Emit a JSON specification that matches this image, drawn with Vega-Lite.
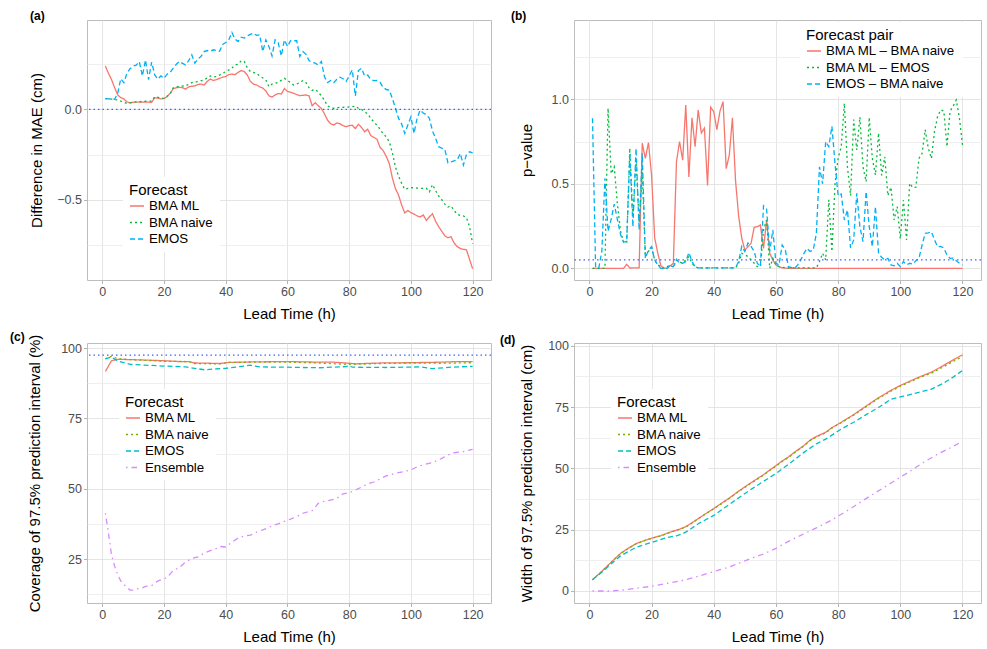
{
"$schema": "https://vega.github.io/schema/vega-lite/v6.json",
"background": "white",
"padding": {"left": 9, "top": 9, "right": 0, "bottom": 0},
"columns": 2,
"bounds": "flush",
"spacing": {"row": 63, "column": 83},
"resolve": {"scale": {"color": "independent", "strokeDash": "independent"}, "legend": {"color": "independent", "strokeDash": "independent"}},
"config": {
  "font": "Liberation Sans",
  "view": {"stroke": "#BDBDBD", "strokeWidth": 1},
  "axis": {"domain": false, "labelFontSize": 12.5, "labelColor": "#4D4D4D", "tickColor": "#B3B3B3", "tickSize": 3.5, "labelPadding": 2, "titleFontSize": 15, "titleFontWeight": "normal", "titleColor": "#000000", "gridColor": "#DEDEDE", "gridWidth": 0.8, "titleLimit": 600, "labelFlush": false, "labelOverlap": false},
  "legend": {"orient": "none", "fillColor": "white", "padding": 6, "titleFontSize": 15, "titleFontWeight": "normal", "titleColor": "black", "labelFontSize": 13.3, "labelColor": "black", "symbolType": "stroke", "symbolSize": 196, "symbolStrokeWidth": 1.5, "rowPadding": 1.5, "titlePadding": 0, "labelOffset": 4},
  "title": {"anchor": "start", "frame": "group", "fontSize": 12, "fontWeight": "bold", "color": "black", "offset": -3},
  "line": {"strokeWidth": 1.3}
},
"datasets": {
"a": [
{"h":1,"m":"BMA ML","v":0.24},{"h":2,"m":"BMA ML","v":0.2},{"h":3,"m":"BMA ML","v":0.165},{"h":4,"m":"BMA ML","v":0.12},{"h":5,"m":"BMA ML","v":0.08},{"h":6,"m":"BMA ML","v":0.065},{"h":7,"m":"BMA ML","v":0.058},{"h":8,"m":"BMA ML","v":0.042},{"h":9,"m":"BMA ML","v":0.035},{"h":10,"m":"BMA ML","v":0.04},{"h":12,"m":"BMA ML","v":0.04},{"h":14,"m":"BMA ML","v":0.041},{"h":16,"m":"BMA ML","v":0.039},{"h":17,"m":"BMA ML","v":0.065},{"h":18,"m":"BMA ML","v":0.062},{"h":19,"m":"BMA ML","v":0.058},{"h":20,"m":"BMA ML","v":0.06},{"h":21,"m":"BMA ML","v":0.07},{"h":22,"m":"BMA ML","v":0.09},{"h":23,"m":"BMA ML","v":0.115},{"h":24,"m":"BMA ML","v":0.12},{"h":25,"m":"BMA ML","v":0.122},{"h":26,"m":"BMA ML","v":0.12},{"h":27,"m":"BMA ML","v":0.112},{"h":28,"m":"BMA ML","v":0.125},{"h":29,"m":"BMA ML","v":0.128},{"h":30,"m":"BMA ML","v":0.13},{"h":31,"m":"BMA ML","v":0.138},{"h":32,"m":"BMA ML","v":0.14},{"h":33,"m":"BMA ML","v":0.135},{"h":34,"m":"BMA ML","v":0.155},{"h":35,"m":"BMA ML","v":0.168},{"h":36,"m":"BMA ML","v":0.16},{"h":37,"m":"BMA ML","v":0.165},{"h":38,"m":"BMA ML","v":0.172},{"h":39,"m":"BMA ML","v":0.178},{"h":40,"m":"BMA ML","v":0.182},{"h":41,"m":"BMA ML","v":0.193},{"h":42,"m":"BMA ML","v":0.195},{"h":43,"m":"BMA ML","v":0.192},{"h":44,"m":"BMA ML","v":0.205},{"h":45,"m":"BMA ML","v":0.215},{"h":46,"m":"BMA ML","v":0.21},{"h":47,"m":"BMA ML","v":0.19},{"h":48,"m":"BMA ML","v":0.155},{"h":49,"m":"BMA ML","v":0.14},{"h":50,"m":"BMA ML","v":0.135},{"h":51,"m":"BMA ML","v":0.125},{"h":52,"m":"BMA ML","v":0.118},{"h":53,"m":"BMA ML","v":0.102},{"h":54,"m":"BMA ML","v":0.075},{"h":55,"m":"BMA ML","v":0.068},{"h":56,"m":"BMA ML","v":0.08},{"h":57,"m":"BMA ML","v":0.088},{"h":58,"m":"BMA ML","v":0.085},{"h":59,"m":"BMA ML","v":0.115},{"h":60,"m":"BMA ML","v":0.1},{"h":61,"m":"BMA ML","v":0.095},{"h":62,"m":"BMA ML","v":0.089},{"h":63,"m":"BMA ML","v":0.082},{"h":64,"m":"BMA ML","v":0.076},{"h":65,"m":"BMA ML","v":0.078},{"h":66,"m":"BMA ML","v":0.08},{"h":67,"m":"BMA ML","v":0.075},{"h":68,"m":"BMA ML","v":0.02},{"h":69,"m":"BMA ML","v":0.037},{"h":70,"m":"BMA ML","v":0.02},{"h":71,"m":"BMA ML","v":0.005},{"h":72,"m":"BMA ML","v":-0.025},{"h":73,"m":"BMA ML","v":-0.06},{"h":74,"m":"BMA ML","v":-0.08},{"h":75,"m":"BMA ML","v":-0.087},{"h":76,"m":"BMA ML","v":-0.075},{"h":77,"m":"BMA ML","v":-0.08},{"h":78,"m":"BMA ML","v":-0.09},{"h":79,"m":"BMA ML","v":-0.096},{"h":80,"m":"BMA ML","v":-0.09},{"h":81,"m":"BMA ML","v":-0.088},{"h":82,"m":"BMA ML","v":-0.106},{"h":83,"m":"BMA ML","v":-0.082},{"h":84,"m":"BMA ML","v":-0.1},{"h":85,"m":"BMA ML","v":-0.124},{"h":86,"m":"BMA ML","v":-0.11},{"h":87,"m":"BMA ML","v":-0.145},{"h":88,"m":"BMA ML","v":-0.155},{"h":89,"m":"BMA ML","v":-0.165},{"h":90,"m":"BMA ML","v":-0.21},{"h":91,"m":"BMA ML","v":-0.228},{"h":92,"m":"BMA ML","v":-0.26},{"h":93,"m":"BMA ML","v":-0.3},{"h":94,"m":"BMA ML","v":-0.38},{"h":95,"m":"BMA ML","v":-0.44},{"h":96,"m":"BMA ML","v":-0.475},{"h":97,"m":"BMA ML","v":-0.53},{"h":98,"m":"BMA ML","v":-0.574},{"h":99,"m":"BMA ML","v":-0.56},{"h":100,"m":"BMA ML","v":-0.572},{"h":101,"m":"BMA ML","v":-0.58},{"h":102,"m":"BMA ML","v":-0.59},{"h":103,"m":"BMA ML","v":-0.596},{"h":104,"m":"BMA ML","v":-0.585},{"h":105,"m":"BMA ML","v":-0.615},{"h":106,"m":"BMA ML","v":-0.595},{"h":107,"m":"BMA ML","v":-0.578},{"h":108,"m":"BMA ML","v":-0.62},{"h":109,"m":"BMA ML","v":-0.65},{"h":110,"m":"BMA ML","v":-0.675},{"h":111,"m":"BMA ML","v":-0.7},{"h":112,"m":"BMA ML","v":-0.711},{"h":113,"m":"BMA ML","v":-0.705},{"h":114,"m":"BMA ML","v":-0.74},{"h":115,"m":"BMA ML","v":-0.76},{"h":116,"m":"BMA ML","v":-0.77},{"h":117,"m":"BMA ML","v":-0.775},{"h":118,"m":"BMA ML","v":-0.778},{"h":119,"m":"BMA ML","v":-0.83},{"h":120,"m":"BMA ML","v":-0.883},
{"h":1,"m":"BMA naive","v":0.06},{"h":3,"m":"BMA naive","v":0.057},{"h":5,"m":"BMA naive","v":0.052},{"h":7,"m":"BMA naive","v":0.04},{"h":8,"m":"BMA naive","v":0.033},{"h":10,"m":"BMA naive","v":0.04},{"h":12,"m":"BMA naive","v":0.043},{"h":14,"m":"BMA naive","v":0.045},{"h":16,"m":"BMA naive","v":0.046},{"h":17,"m":"BMA naive","v":0.07},{"h":19,"m":"BMA naive","v":0.063},{"h":20,"m":"BMA naive","v":0.061},{"h":22,"m":"BMA naive","v":0.085},{"h":23,"m":"BMA naive","v":0.12},{"h":25,"m":"BMA naive","v":0.128},{"h":27,"m":"BMA naive","v":0.13},{"h":29,"m":"BMA naive","v":0.148},{"h":31,"m":"BMA naive","v":0.154},{"h":33,"m":"BMA naive","v":0.163},{"h":35,"m":"BMA naive","v":0.185},{"h":36,"m":"BMA naive","v":0.18},{"h":37,"m":"BMA naive","v":0.182},{"h":38,"m":"BMA naive","v":0.19},{"h":40,"m":"BMA naive","v":0.209},{"h":42,"m":"BMA naive","v":0.228},{"h":43,"m":"BMA naive","v":0.246},{"h":44,"m":"BMA naive","v":0.25},{"h":45,"m":"BMA naive","v":0.269},{"h":46,"m":"BMA naive","v":0.265},{"h":47,"m":"BMA naive","v":0.23},{"h":48,"m":"BMA naive","v":0.209},{"h":50,"m":"BMA naive","v":0.2},{"h":51,"m":"BMA naive","v":0.185},{"h":53,"m":"BMA naive","v":0.163},{"h":54,"m":"BMA naive","v":0.126},{"h":55,"m":"BMA naive","v":0.14},{"h":56,"m":"BMA naive","v":0.144},{"h":57,"m":"BMA naive","v":0.15},{"h":59,"m":"BMA naive","v":0.172},{"h":60,"m":"BMA naive","v":0.16},{"h":61,"m":"BMA naive","v":0.148},{"h":62,"m":"BMA naive","v":0.135},{"h":63,"m":"BMA naive","v":0.14},{"h":64,"m":"BMA naive","v":0.15},{"h":65,"m":"BMA naive","v":0.159},{"h":66,"m":"BMA naive","v":0.148},{"h":67,"m":"BMA naive","v":0.12},{"h":68,"m":"BMA naive","v":0.105},{"h":69,"m":"BMA naive","v":0.111},{"h":70,"m":"BMA naive","v":0.095},{"h":71,"m":"BMA naive","v":0.075},{"h":72,"m":"BMA naive","v":0.05},{"h":73,"m":"BMA naive","v":0.019},{"h":74,"m":"BMA naive","v":0.01},{"h":75,"m":"BMA naive","v":0.006},{"h":77,"m":"BMA naive","v":0.011},{"h":79,"m":"BMA naive","v":0.012},{"h":81,"m":"BMA naive","v":0.015},{"h":82,"m":"BMA naive","v":0.018},{"h":83,"m":"BMA naive","v":0.005},{"h":84,"m":"BMA naive","v":0.0},{"h":85,"m":"BMA naive","v":-0.013},{"h":86,"m":"BMA naive","v":-0.025},{"h":87,"m":"BMA naive","v":-0.05},{"h":88,"m":"BMA naive","v":-0.07},{"h":89,"m":"BMA naive","v":-0.087},{"h":90,"m":"BMA naive","v":-0.11},{"h":91,"m":"BMA naive","v":-0.135},{"h":92,"m":"BMA naive","v":-0.152},{"h":93,"m":"BMA naive","v":-0.18},{"h":94,"m":"BMA naive","v":-0.24},{"h":95,"m":"BMA naive","v":-0.32},{"h":96,"m":"BMA naive","v":-0.37},{"h":97,"m":"BMA naive","v":-0.41},{"h":98,"m":"BMA naive","v":-0.443},{"h":100,"m":"BMA naive","v":-0.433},{"h":102,"m":"BMA naive","v":-0.436},{"h":104,"m":"BMA naive","v":-0.438},{"h":105,"m":"BMA naive","v":-0.437},{"h":106,"m":"BMA naive","v":-0.457},{"h":107,"m":"BMA naive","v":-0.417},{"h":108,"m":"BMA naive","v":-0.45},{"h":109,"m":"BMA naive","v":-0.48},{"h":110,"m":"BMA naive","v":-0.5},{"h":111,"m":"BMA naive","v":-0.525},{"h":112,"m":"BMA naive","v":-0.541},{"h":113,"m":"BMA naive","v":-0.535},{"h":114,"m":"BMA naive","v":-0.56},{"h":115,"m":"BMA naive","v":-0.581},{"h":116,"m":"BMA naive","v":-0.587},{"h":117,"m":"BMA naive","v":-0.59},{"h":118,"m":"BMA naive","v":-0.6},{"h":119,"m":"BMA naive","v":-0.65},{"h":120,"m":"BMA naive","v":-0.744},
{"h":1,"m":"EMOS","v":0.059},{"h":2,"m":"EMOS","v":0.058},{"h":3,"m":"EMOS","v":0.057},{"h":4,"m":"EMOS","v":0.056},{"h":5,"m":"EMOS","v":0.089},{"h":6,"m":"EMOS","v":0.17},{"h":7,"m":"EMOS","v":0.148},{"h":8,"m":"EMOS","v":0.2},{"h":9,"m":"EMOS","v":0.225},{"h":10,"m":"EMOS","v":0.24},{"h":11,"m":"EMOS","v":0.245},{"h":12,"m":"EMOS","v":0.265},{"h":13,"m":"EMOS","v":0.185},{"h":14,"m":"EMOS","v":0.274},{"h":15,"m":"EMOS","v":0.165},{"h":16,"m":"EMOS","v":0.262},{"h":17,"m":"EMOS","v":0.191},{"h":18,"m":"EMOS","v":0.168},{"h":19,"m":"EMOS","v":0.185},{"h":20,"m":"EMOS","v":0.172},{"h":21,"m":"EMOS","v":0.195},{"h":22,"m":"EMOS","v":0.205},{"h":23,"m":"EMOS","v":0.228},{"h":24,"m":"EMOS","v":0.25},{"h":25,"m":"EMOS","v":0.265},{"h":26,"m":"EMOS","v":0.255},{"h":27,"m":"EMOS","v":0.246},{"h":28,"m":"EMOS","v":0.27},{"h":29,"m":"EMOS","v":0.302},{"h":30,"m":"EMOS","v":0.256},{"h":31,"m":"EMOS","v":0.28},{"h":32,"m":"EMOS","v":0.293},{"h":33,"m":"EMOS","v":0.32},{"h":34,"m":"EMOS","v":0.326},{"h":35,"m":"EMOS","v":0.322},{"h":36,"m":"EMOS","v":0.33},{"h":37,"m":"EMOS","v":0.325},{"h":38,"m":"EMOS","v":0.322},{"h":39,"m":"EMOS","v":0.36},{"h":40,"m":"EMOS","v":0.37},{"h":41,"m":"EMOS","v":0.385},{"h":42,"m":"EMOS","v":0.426},{"h":43,"m":"EMOS","v":0.39},{"h":44,"m":"EMOS","v":0.376},{"h":45,"m":"EMOS","v":0.4},{"h":46,"m":"EMOS","v":0.395},{"h":47,"m":"EMOS","v":0.407},{"h":48,"m":"EMOS","v":0.415},{"h":49,"m":"EMOS","v":0.422},{"h":50,"m":"EMOS","v":0.41},{"h":51,"m":"EMOS","v":0.413},{"h":52,"m":"EMOS","v":0.32},{"h":53,"m":"EMOS","v":0.385},{"h":54,"m":"EMOS","v":0.348},{"h":55,"m":"EMOS","v":0.296},{"h":56,"m":"EMOS","v":0.385},{"h":57,"m":"EMOS","v":0.37},{"h":58,"m":"EMOS","v":0.296},{"h":59,"m":"EMOS","v":0.385},{"h":60,"m":"EMOS","v":0.348},{"h":61,"m":"EMOS","v":0.381},{"h":62,"m":"EMOS","v":0.38},{"h":63,"m":"EMOS","v":0.38},{"h":64,"m":"EMOS","v":0.293},{"h":65,"m":"EMOS","v":0.32},{"h":66,"m":"EMOS","v":0.305},{"h":67,"m":"EMOS","v":0.27},{"h":68,"m":"EMOS","v":0.26},{"h":69,"m":"EMOS","v":0.256},{"h":70,"m":"EMOS","v":0.245},{"h":71,"m":"EMOS","v":0.265},{"h":72,"m":"EMOS","v":0.18},{"h":73,"m":"EMOS","v":0.148},{"h":74,"m":"EMOS","v":0.16},{"h":75,"m":"EMOS","v":0.148},{"h":76,"m":"EMOS","v":0.167},{"h":77,"m":"EMOS","v":0.178},{"h":78,"m":"EMOS","v":0.17},{"h":79,"m":"EMOS","v":0.154},{"h":80,"m":"EMOS","v":0.185},{"h":81,"m":"EMOS","v":0.219},{"h":82,"m":"EMOS","v":0.074},{"h":83,"m":"EMOS","v":0.215},{"h":84,"m":"EMOS","v":0.228},{"h":85,"m":"EMOS","v":0.185},{"h":86,"m":"EMOS","v":0.19},{"h":87,"m":"EMOS","v":0.165},{"h":88,"m":"EMOS","v":0.159},{"h":89,"m":"EMOS","v":0.16},{"h":90,"m":"EMOS","v":0.15},{"h":91,"m":"EMOS","v":0.122},{"h":92,"m":"EMOS","v":0.11},{"h":93,"m":"EMOS","v":0.107},{"h":94,"m":"EMOS","v":0.06},{"h":95,"m":"EMOS","v":0.006},{"h":96,"m":"EMOS","v":-0.05},{"h":97,"m":"EMOS","v":-0.081},{"h":98,"m":"EMOS","v":-0.133},{"h":99,"m":"EMOS","v":-0.087},{"h":100,"m":"EMOS","v":-0.041},{"h":101,"m":"EMOS","v":-0.133},{"h":102,"m":"EMOS","v":-0.05},{"h":103,"m":"EMOS","v":-0.004},{"h":104,"m":"EMOS","v":-0.02},{"h":105,"m":"EMOS","v":-0.03},{"h":106,"m":"EMOS","v":-0.05},{"h":107,"m":"EMOS","v":-0.12},{"h":108,"m":"EMOS","v":-0.161},{"h":109,"m":"EMOS","v":-0.207},{"h":110,"m":"EMOS","v":-0.215},{"h":111,"m":"EMOS","v":-0.222},{"h":112,"m":"EMOS","v":-0.296},{"h":113,"m":"EMOS","v":-0.291},{"h":114,"m":"EMOS","v":-0.285},{"h":115,"m":"EMOS","v":-0.28},{"h":116,"m":"EMOS","v":-0.244},{"h":117,"m":"EMOS","v":-0.309},{"h":118,"m":"EMOS","v":-0.25},{"h":119,"m":"EMOS","v":-0.235},{"h":120,"m":"EMOS","v":-0.241}
],
"b": [
{"h":1,"m":"BMA ML – BMA naive","v":0},{"h":11,"m":"BMA ML – BMA naive","v":0},{"h":12,"m":"BMA ML – BMA naive","v":0.024},{"h":13,"m":"BMA ML – BMA naive","v":0.002},{"h":16,"m":"BMA ML – BMA naive","v":0.003},{"h":17,"m":"BMA ML – BMA naive","v":0.74},{"h":18,"m":"BMA ML – BMA naive","v":0.65},{"h":19,"m":"BMA ML – BMA naive","v":0.744},{"h":20,"m":"BMA ML – BMA naive","v":0.55},{"h":21,"m":"BMA ML – BMA naive","v":0.18},{"h":22,"m":"BMA ML – BMA naive","v":0.089},{"h":23,"m":"BMA ML – BMA naive","v":0.015},{"h":24,"m":"BMA ML – BMA naive","v":0.002},{"h":25,"m":"BMA ML – BMA naive","v":0.0},{"h":26,"m":"BMA ML – BMA naive","v":0.015},{"h":27,"m":"BMA ML – BMA naive","v":0.03},{"h":28,"m":"BMA ML – BMA naive","v":0.63},{"h":29,"m":"BMA ML – BMA naive","v":0.75},{"h":30,"m":"BMA ML – BMA naive","v":0.64},{"h":31,"m":"BMA ML – BMA naive","v":0.966},{"h":32,"m":"BMA ML – BMA naive","v":0.54},{"h":33,"m":"BMA ML – BMA naive","v":0.89},{"h":34,"m":"BMA ML – BMA naive","v":0.72},{"h":35,"m":"BMA ML – BMA naive","v":0.937},{"h":36,"m":"BMA ML – BMA naive","v":0.8},{"h":37,"m":"BMA ML – BMA naive","v":0.83},{"h":38,"m":"BMA ML – BMA naive","v":0.49},{"h":39,"m":"BMA ML – BMA naive","v":0.953},{"h":40,"m":"BMA ML – BMA naive","v":0.927},{"h":41,"m":"BMA ML – BMA naive","v":0.82},{"h":42,"m":"BMA ML – BMA naive","v":0.93},{"h":43,"m":"BMA ML – BMA naive","v":0.986},{"h":44,"m":"BMA ML – BMA naive","v":0.59},{"h":45,"m":"BMA ML – BMA naive","v":0.67},{"h":46,"m":"BMA ML – BMA naive","v":0.89},{"h":47,"m":"BMA ML – BMA naive","v":0.52},{"h":48,"m":"BMA ML – BMA naive","v":0.31},{"h":49,"m":"BMA ML – BMA naive","v":0.178},{"h":50,"m":"BMA ML – BMA naive","v":0.108},{"h":51,"m":"BMA ML – BMA naive","v":0.128},{"h":52,"m":"BMA ML – BMA naive","v":0.148},{"h":53,"m":"BMA ML – BMA naive","v":0.243},{"h":54,"m":"BMA ML – BMA naive","v":0.246},{"h":55,"m":"BMA ML – BMA naive","v":0.256},{"h":56,"m":"BMA ML – BMA naive","v":0.118},{"h":57,"m":"BMA ML – BMA naive","v":0.285},{"h":58,"m":"BMA ML – BMA naive","v":0.089},{"h":59,"m":"BMA ML – BMA naive","v":0.049},{"h":60,"m":"BMA ML – BMA naive","v":0.02},{"h":61,"m":"BMA ML – BMA naive","v":0.01},{"h":62,"m":"BMA ML – BMA naive","v":0.003},{"h":64,"m":"BMA ML – BMA naive","v":0},{"h":120,"m":"BMA ML – BMA naive","v":0},
{"h":1,"m":"BMA ML – EMOS","v":0},{"h":5,"m":"BMA ML – EMOS","v":0},{"h":6,"m":"BMA ML – EMOS","v":0.947},{"h":7,"m":"BMA ML – EMOS","v":0.56},{"h":8,"m":"BMA ML – EMOS","v":0.6},{"h":9,"m":"BMA ML – EMOS","v":0.38},{"h":10,"m":"BMA ML – EMOS","v":0.22},{"h":11,"m":"BMA ML – EMOS","v":0.155},{"h":12,"m":"BMA ML – EMOS","v":0.15},{"h":13,"m":"BMA ML – EMOS","v":0.71},{"h":14,"m":"BMA ML – EMOS","v":0.3},{"h":15,"m":"BMA ML – EMOS","v":0.64},{"h":16,"m":"BMA ML – EMOS","v":0.27},{"h":17,"m":"BMA ML – EMOS","v":0.57},{"h":18,"m":"BMA ML – EMOS","v":0.069},{"h":19,"m":"BMA ML – EMOS","v":0.1},{"h":20,"m":"BMA ML – EMOS","v":0.124},{"h":21,"m":"BMA ML – EMOS","v":0.05},{"h":22,"m":"BMA ML – EMOS","v":0.02},{"h":23,"m":"BMA ML – EMOS","v":0.01},{"h":24,"m":"BMA ML – EMOS","v":0},{"h":26,"m":"BMA ML – EMOS","v":0.02},{"h":27,"m":"BMA ML – EMOS","v":0.005},{"h":28,"m":"BMA ML – EMOS","v":0.049},{"h":29,"m":"BMA ML – EMOS","v":0.039},{"h":30,"m":"BMA ML – EMOS","v":0.03},{"h":31,"m":"BMA ML – EMOS","v":0.05},{"h":32,"m":"BMA ML – EMOS","v":0.069},{"h":33,"m":"BMA ML – EMOS","v":0.03},{"h":34,"m":"BMA ML – EMOS","v":0.01},{"h":35,"m":"BMA ML – EMOS","v":0.003},{"h":47,"m":"BMA ML – EMOS","v":0.003},{"h":48,"m":"BMA ML – EMOS","v":0.03},{"h":49,"m":"BMA ML – EMOS","v":0.089},{"h":50,"m":"BMA ML – EMOS","v":0.08},{"h":51,"m":"BMA ML – EMOS","v":0.07},{"h":52,"m":"BMA ML – EMOS","v":0.049},{"h":53,"m":"BMA ML – EMOS","v":0.03},{"h":54,"m":"BMA ML – EMOS","v":0.01},{"h":55,"m":"BMA ML – EMOS","v":0.01},{"h":56,"m":"BMA ML – EMOS","v":0.227},{"h":57,"m":"BMA ML – EMOS","v":0.286},{"h":58,"m":"BMA ML – EMOS","v":0.0},{"h":59,"m":"BMA ML – EMOS","v":0.059},{"h":60,"m":"BMA ML – EMOS","v":0.02},{"h":61,"m":"BMA ML – EMOS","v":0.01},{"h":63,"m":"BMA ML – EMOS","v":0.003},{"h":73,"m":"BMA ML – EMOS","v":0.003},{"h":74,"m":"BMA ML – EMOS","v":0.04},{"h":75,"m":"BMA ML – EMOS","v":0.089},{"h":76,"m":"BMA ML – EMOS","v":0.05},{"h":77,"m":"BMA ML – EMOS","v":0.405},{"h":78,"m":"BMA ML – EMOS","v":0.1},{"h":79,"m":"BMA ML – EMOS","v":0.5},{"h":80,"m":"BMA ML – EMOS","v":0.65},{"h":81,"m":"BMA ML – EMOS","v":0.72},{"h":82,"m":"BMA ML – EMOS","v":0.976},{"h":83,"m":"BMA ML – EMOS","v":0.6},{"h":84,"m":"BMA ML – EMOS","v":0.43},{"h":85,"m":"BMA ML – EMOS","v":0.88},{"h":86,"m":"BMA ML – EMOS","v":0.7},{"h":87,"m":"BMA ML – EMOS","v":0.895},{"h":88,"m":"BMA ML – EMOS","v":0.6},{"h":89,"m":"BMA ML – EMOS","v":0.513},{"h":90,"m":"BMA ML – EMOS","v":0.893},{"h":91,"m":"BMA ML – EMOS","v":0.65},{"h":92,"m":"BMA ML – EMOS","v":0.552},{"h":93,"m":"BMA ML – EMOS","v":0.8},{"h":94,"m":"BMA ML – EMOS","v":0.55},{"h":95,"m":"BMA ML – EMOS","v":0.66},{"h":96,"m":"BMA ML – EMOS","v":0.43},{"h":97,"m":"BMA ML – EMOS","v":0.48},{"h":98,"m":"BMA ML – EMOS","v":0.286},{"h":99,"m":"BMA ML – EMOS","v":0.365},{"h":100,"m":"BMA ML – EMOS","v":0.175},{"h":101,"m":"BMA ML – EMOS","v":0.404},{"h":102,"m":"BMA ML – EMOS","v":0.168},{"h":103,"m":"BMA ML – EMOS","v":0.503},{"h":104,"m":"BMA ML – EMOS","v":0.478},{"h":105,"m":"BMA ML – EMOS","v":0.48},{"h":106,"m":"BMA ML – EMOS","v":0.65},{"h":107,"m":"BMA ML – EMOS","v":0.68},{"h":108,"m":"BMA ML – EMOS","v":0.82},{"h":109,"m":"BMA ML – EMOS","v":0.71},{"h":110,"m":"BMA ML – EMOS","v":0.65},{"h":111,"m":"BMA ML – EMOS","v":0.81},{"h":112,"m":"BMA ML – EMOS","v":0.9},{"h":113,"m":"BMA ML – EMOS","v":0.937},{"h":114,"m":"BMA ML – EMOS","v":0.93},{"h":115,"m":"BMA ML – EMOS","v":0.72},{"h":116,"m":"BMA ML – EMOS","v":0.93},{"h":117,"m":"BMA ML – EMOS","v":0.96},{"h":118,"m":"BMA ML – EMOS","v":0.996},{"h":119,"m":"BMA ML – EMOS","v":0.89},{"h":120,"m":"BMA ML – EMOS","v":0.73},
{"h":1,"m":"EMOS – BMA naive","v":0.888},{"h":2,"m":"EMOS – BMA naive","v":0.01},{"h":3,"m":"EMOS – BMA naive","v":0.0},{"h":4,"m":"EMOS – BMA naive","v":0.1},{"h":5,"m":"EMOS – BMA naive","v":0.533},{"h":6,"m":"EMOS – BMA naive","v":0.22},{"h":7,"m":"EMOS – BMA naive","v":0.29},{"h":8,"m":"EMOS – BMA naive","v":0.38},{"h":9,"m":"EMOS – BMA naive","v":0.29},{"h":10,"m":"EMOS – BMA naive","v":0.2},{"h":11,"m":"EMOS – BMA naive","v":0.155},{"h":12,"m":"EMOS – BMA naive","v":0.158},{"h":13,"m":"EMOS – BMA naive","v":0.68},{"h":14,"m":"EMOS – BMA naive","v":0.246},{"h":15,"m":"EMOS – BMA naive","v":0.71},{"h":16,"m":"EMOS – BMA naive","v":0.227},{"h":17,"m":"EMOS – BMA naive","v":0.68},{"h":18,"m":"EMOS – BMA naive","v":0.059},{"h":19,"m":"EMOS – BMA naive","v":0.108},{"h":20,"m":"EMOS – BMA naive","v":0.128},{"h":21,"m":"EMOS – BMA naive","v":0.049},{"h":22,"m":"EMOS – BMA naive","v":0.02},{"h":23,"m":"EMOS – BMA naive","v":0.0},{"h":25,"m":"EMOS – BMA naive","v":0.0},{"h":26,"m":"EMOS – BMA naive","v":0.02},{"h":27,"m":"EMOS – BMA naive","v":0.01},{"h":28,"m":"EMOS – BMA naive","v":0.053},{"h":29,"m":"EMOS – BMA naive","v":0.03},{"h":30,"m":"EMOS – BMA naive","v":0.03},{"h":31,"m":"EMOS – BMA naive","v":0.04},{"h":32,"m":"EMOS – BMA naive","v":0.093},{"h":33,"m":"EMOS – BMA naive","v":0.04},{"h":34,"m":"EMOS – BMA naive","v":0.01},{"h":35,"m":"EMOS – BMA naive","v":0.003},{"h":47,"m":"EMOS – BMA naive","v":0.003},{"h":48,"m":"EMOS – BMA naive","v":0.04},{"h":49,"m":"EMOS – BMA naive","v":0.13},{"h":50,"m":"EMOS – BMA naive","v":0.1},{"h":51,"m":"EMOS – BMA naive","v":0.15},{"h":52,"m":"EMOS – BMA naive","v":0.13},{"h":53,"m":"EMOS – BMA naive","v":0.1},{"h":54,"m":"EMOS – BMA naive","v":0.03},{"h":55,"m":"EMOS – BMA naive","v":0.01},{"h":56,"m":"EMOS – BMA naive","v":0.37},{"h":57,"m":"EMOS – BMA naive","v":0.35},{"h":58,"m":"EMOS – BMA naive","v":0.1},{"h":59,"m":"EMOS – BMA naive","v":0.227},{"h":60,"m":"EMOS – BMA naive","v":0.03},{"h":61,"m":"EMOS – BMA naive","v":0.02},{"h":62,"m":"EMOS – BMA naive","v":0.138},{"h":63,"m":"EMOS – BMA naive","v":0.11},{"h":64,"m":"EMOS – BMA naive","v":0.01},{"h":66,"m":"EMOS – BMA naive","v":0.0},{"h":67,"m":"EMOS – BMA naive","v":0.02},{"h":68,"m":"EMOS – BMA naive","v":0.05},{"h":69,"m":"EMOS – BMA naive","v":0.089},{"h":70,"m":"EMOS – BMA naive","v":0.118},{"h":71,"m":"EMOS – BMA naive","v":0.1},{"h":72,"m":"EMOS – BMA naive","v":0.108},{"h":73,"m":"EMOS – BMA naive","v":0.207},{"h":74,"m":"EMOS – BMA naive","v":0.6},{"h":75,"m":"EMOS – BMA naive","v":0.5},{"h":76,"m":"EMOS – BMA naive","v":0.75},{"h":77,"m":"EMOS – BMA naive","v":0.72},{"h":78,"m":"EMOS – BMA naive","v":0.84},{"h":79,"m":"EMOS – BMA naive","v":0.62},{"h":80,"m":"EMOS – BMA naive","v":0.43},{"h":81,"m":"EMOS – BMA naive","v":0.44},{"h":82,"m":"EMOS – BMA naive","v":0.286},{"h":83,"m":"EMOS – BMA naive","v":0.345},{"h":84,"m":"EMOS – BMA naive","v":0.12},{"h":85,"m":"EMOS – BMA naive","v":0.168},{"h":86,"m":"EMOS – BMA naive","v":0.444},{"h":87,"m":"EMOS – BMA naive","v":0.246},{"h":88,"m":"EMOS – BMA naive","v":0.158},{"h":89,"m":"EMOS – BMA naive","v":0.454},{"h":90,"m":"EMOS – BMA naive","v":0.246},{"h":91,"m":"EMOS – BMA naive","v":0.128},{"h":92,"m":"EMOS – BMA naive","v":0.365},{"h":93,"m":"EMOS – BMA naive","v":0.089},{"h":94,"m":"EMOS – BMA naive","v":0.065},{"h":95,"m":"EMOS – BMA naive","v":0.05},{"h":96,"m":"EMOS – BMA naive","v":0.059},{"h":97,"m":"EMOS – BMA naive","v":0.02},{"h":98,"m":"EMOS – BMA naive","v":0.015},{"h":99,"m":"EMOS – BMA naive","v":0.03},{"h":100,"m":"EMOS – BMA naive","v":0.01},{"h":101,"m":"EMOS – BMA naive","v":0.04},{"h":102,"m":"EMOS – BMA naive","v":0.02},{"h":103,"m":"EMOS – BMA naive","v":0.03},{"h":104,"m":"EMOS – BMA naive","v":0.025},{"h":105,"m":"EMOS – BMA naive","v":0.045},{"h":106,"m":"EMOS – BMA naive","v":0.059},{"h":107,"m":"EMOS – BMA naive","v":0.138},{"h":108,"m":"EMOS – BMA naive","v":0.207},{"h":109,"m":"EMOS – BMA naive","v":0.21},{"h":110,"m":"EMOS – BMA naive","v":0.217},{"h":111,"m":"EMOS – BMA naive","v":0.168},{"h":112,"m":"EMOS – BMA naive","v":0.128},{"h":113,"m":"EMOS – BMA naive","v":0.13},{"h":114,"m":"EMOS – BMA naive","v":0.12},{"h":115,"m":"EMOS – BMA naive","v":0.079},{"h":116,"m":"EMOS – BMA naive","v":0.059},{"h":117,"m":"EMOS – BMA naive","v":0.06},{"h":118,"m":"EMOS – BMA naive","v":0.045},{"h":119,"m":"EMOS – BMA naive","v":0.03},{"h":120,"m":"EMOS – BMA naive","v":0.02}
],
"c": [
{"h":1,"m":"BMA ML","v":91.7},{"h":3,"m":"BMA ML","v":95.5},{"h":5,"m":"BMA ML","v":96.0},{"h":9,"m":"BMA ML","v":95.9},{"h":15,"m":"BMA ML","v":95.7},{"h":20,"m":"BMA ML","v":95.5},{"h":25,"m":"BMA ML","v":95.2},{"h":28,"m":"BMA ML","v":95.2},{"h":30,"m":"BMA ML","v":94.7},{"h":35,"m":"BMA ML","v":94.6},{"h":38,"m":"BMA ML","v":94.5},{"h":41,"m":"BMA ML","v":94.9},{"h":50,"m":"BMA ML","v":95.1},{"h":60,"m":"BMA ML","v":95.2},{"h":70,"m":"BMA ML","v":95.0},{"h":75,"m":"BMA ML","v":95.0},{"h":80,"m":"BMA ML","v":94.6},{"h":82,"m":"BMA ML","v":94.4},{"h":90,"m":"BMA ML","v":94.7},{"h":100,"m":"BMA ML","v":94.8},{"h":110,"m":"BMA ML","v":95.0},{"h":115,"m":"BMA ML","v":95.2},{"h":120,"m":"BMA ML","v":95.2},
{"h":1,"m":"BMA naive","v":96.2},{"h":3,"m":"BMA naive","v":97.1},{"h":5,"m":"BMA naive","v":96.2},{"h":9,"m":"BMA naive","v":95.9},{"h":20,"m":"BMA naive","v":95.3},{"h":28,"m":"BMA naive","v":95.2},{"h":30,"m":"BMA naive","v":94.5},{"h":38,"m":"BMA naive","v":94.4},{"h":41,"m":"BMA naive","v":94.9},{"h":50,"m":"BMA naive","v":95.0},{"h":60,"m":"BMA naive","v":95.0},{"h":70,"m":"BMA naive","v":94.7},{"h":80,"m":"BMA naive","v":94.2},{"h":90,"m":"BMA naive","v":94.5},{"h":100,"m":"BMA naive","v":94.7},{"h":110,"m":"BMA naive","v":94.6},{"h":120,"m":"BMA naive","v":94.8},
{"h":1,"m":"EMOS","v":96.2},{"h":3,"m":"EMOS","v":96.8},{"h":5,"m":"EMOS","v":95.4},{"h":9,"m":"EMOS","v":94.2},{"h":20,"m":"EMOS","v":93.6},{"h":27,"m":"EMOS","v":93.3},{"h":33,"m":"EMOS","v":92.3},{"h":40,"m":"EMOS","v":92.8},{"h":48,"m":"EMOS","v":93.9},{"h":51,"m":"EMOS","v":93.3},{"h":60,"m":"EMOS","v":93.2},{"h":70,"m":"EMOS","v":93.0},{"h":79,"m":"EMOS","v":93.4},{"h":80,"m":"EMOS","v":93.8},{"h":81,"m":"EMOS","v":93.2},{"h":92,"m":"EMOS","v":93.1},{"h":103,"m":"EMOS","v":93.3},{"h":107,"m":"EMOS","v":92.7},{"h":113,"m":"EMOS","v":93.2},{"h":120,"m":"EMOS","v":93.5},
{"h":1,"m":"Ensemble","v":41.3},{"h":2,"m":"Ensemble","v":34.2},{"h":3,"m":"Ensemble","v":26.5},{"h":4,"m":"Ensemble","v":22.5},{"h":5,"m":"Ensemble","v":19.5},{"h":6,"m":"Ensemble","v":17.2},{"h":7,"m":"Ensemble","v":16.0},{"h":8,"m":"Ensemble","v":15.0},{"h":9,"m":"Ensemble","v":14.0},{"h":10,"m":"Ensemble","v":14.0},{"h":11,"m":"Ensemble","v":14.4},{"h":13,"m":"Ensemble","v":14.8},{"h":14,"m":"Ensemble","v":15.3},{"h":16,"m":"Ensemble","v":15.6},{"h":18,"m":"Ensemble","v":17.2},{"h":20,"m":"Ensemble","v":18.0},{"h":21,"m":"Ensemble","v":18.5},{"h":23,"m":"Ensemble","v":21.0},{"h":25,"m":"Ensemble","v":22.0},{"h":27,"m":"Ensemble","v":24.0},{"h":29,"m":"Ensemble","v":25.2},{"h":31,"m":"Ensemble","v":25.8},{"h":33,"m":"Ensemble","v":27.1},{"h":35,"m":"Ensemble","v":28.0},{"h":37,"m":"Ensemble","v":28.8},{"h":38,"m":"Ensemble","v":29.5},{"h":40,"m":"Ensemble","v":29.3},{"h":42,"m":"Ensemble","v":31.0},{"h":44,"m":"Ensemble","v":32.5},{"h":46,"m":"Ensemble","v":33.2},{"h":48,"m":"Ensemble","v":33.5},{"h":50,"m":"Ensemble","v":34.6},{"h":52,"m":"Ensemble","v":35.4},{"h":54,"m":"Ensemble","v":36.2},{"h":55,"m":"Ensemble","v":36.9},{"h":57,"m":"Ensemble","v":37.5},{"h":59,"m":"Ensemble","v":38.4},{"h":61,"m":"Ensemble","v":39.2},{"h":63,"m":"Ensemble","v":40.1},{"h":65,"m":"Ensemble","v":41.3},{"h":67,"m":"Ensemble","v":41.9},{"h":68,"m":"Ensemble","v":42.2},{"h":70,"m":"Ensemble","v":44.8},{"h":71,"m":"Ensemble","v":45.3},{"h":73,"m":"Ensemble","v":45.7},{"h":75,"m":"Ensemble","v":46.2},{"h":76,"m":"Ensemble","v":46.6},{"h":78,"m":"Ensemble","v":48.2},{"h":80,"m":"Ensemble","v":48.6},{"h":82,"m":"Ensemble","v":49.5},{"h":84,"m":"Ensemble","v":50.6},{"h":86,"m":"Ensemble","v":51.7},{"h":88,"m":"Ensemble","v":52.4},{"h":90,"m":"Ensemble","v":53.5},{"h":92,"m":"Ensemble","v":54.6},{"h":95,"m":"Ensemble","v":55.5},{"h":98,"m":"Ensemble","v":56.2},{"h":100,"m":"Ensemble","v":56.7},{"h":102,"m":"Ensemble","v":57.8},{"h":104,"m":"Ensemble","v":58.5},{"h":107,"m":"Ensemble","v":59.3},{"h":110,"m":"Ensemble","v":60.8},{"h":112,"m":"Ensemble","v":62.0},{"h":114,"m":"Ensemble","v":62.8},{"h":117,"m":"Ensemble","v":63.2},{"h":120,"m":"Ensemble","v":64.0}
],
"d": [
{"h":1,"m":"BMA ML","v":4.6},{"h":4,"m":"BMA ML","v":8.0},{"h":7,"m":"BMA ML","v":11.7},{"h":10,"m":"BMA ML","v":15.3},{"h":12,"m":"BMA ML","v":17.0},{"h":15,"m":"BMA ML","v":19.3},{"h":18,"m":"BMA ML","v":20.7},{"h":20,"m":"BMA ML","v":21.5},{"h":23,"m":"BMA ML","v":22.6},{"h":26,"m":"BMA ML","v":24.0},{"h":29,"m":"BMA ML","v":25.2},{"h":31,"m":"BMA ML","v":26.2},{"h":33,"m":"BMA ML","v":27.8},{"h":35,"m":"BMA ML","v":29.5},{"h":38,"m":"BMA ML","v":32.0},{"h":40,"m":"BMA ML","v":33.6},{"h":43,"m":"BMA ML","v":36.2},{"h":45,"m":"BMA ML","v":37.9},{"h":48,"m":"BMA ML","v":40.7},{"h":51,"m":"BMA ML","v":43.3},{"h":54,"m":"BMA ML","v":45.8},{"h":56,"m":"BMA ML","v":47.4},{"h":58,"m":"BMA ML","v":49.3},{"h":60,"m":"BMA ML","v":51.1},{"h":62,"m":"BMA ML","v":53.0},{"h":64,"m":"BMA ML","v":54.6},{"h":66,"m":"BMA ML","v":56.6},{"h":69,"m":"BMA ML","v":59.3},{"h":71,"m":"BMA ML","v":61.5},{"h":73,"m":"BMA ML","v":63.0},{"h":76,"m":"BMA ML","v":64.7},{"h":78,"m":"BMA ML","v":66.6},{"h":81,"m":"BMA ML","v":68.8},{"h":85,"m":"BMA ML","v":71.9},{"h":89,"m":"BMA ML","v":75.4},{"h":93,"m":"BMA ML","v":78.8},{"h":97,"m":"BMA ML","v":81.8},{"h":100,"m":"BMA ML","v":83.8},{"h":103,"m":"BMA ML","v":85.5},{"h":106,"m":"BMA ML","v":87.2},{"h":110,"m":"BMA ML","v":89.2},{"h":113,"m":"BMA ML","v":91.3},{"h":116,"m":"BMA ML","v":93.5},{"h":120,"m":"BMA ML","v":96.3},
{"h":1,"m":"BMA naive","v":4.6},{"h":4,"m":"BMA naive","v":8.0},{"h":7,"m":"BMA naive","v":11.6},{"h":10,"m":"BMA naive","v":15.2},{"h":12,"m":"BMA naive","v":16.9},{"h":15,"m":"BMA naive","v":19.2},{"h":18,"m":"BMA naive","v":20.6},{"h":20,"m":"BMA naive","v":21.4},{"h":23,"m":"BMA naive","v":22.5},{"h":26,"m":"BMA naive","v":23.9},{"h":29,"m":"BMA naive","v":25.1},{"h":31,"m":"BMA naive","v":26.1},{"h":33,"m":"BMA naive","v":27.7},{"h":35,"m":"BMA naive","v":29.4},{"h":38,"m":"BMA naive","v":31.9},{"h":40,"m":"BMA naive","v":33.5},{"h":43,"m":"BMA naive","v":36.0},{"h":45,"m":"BMA naive","v":37.7},{"h":48,"m":"BMA naive","v":40.5},{"h":51,"m":"BMA naive","v":43.1},{"h":54,"m":"BMA naive","v":45.6},{"h":56,"m":"BMA naive","v":47.2},{"h":58,"m":"BMA naive","v":49.1},{"h":60,"m":"BMA naive","v":50.9},{"h":62,"m":"BMA naive","v":52.8},{"h":64,"m":"BMA naive","v":54.4},{"h":66,"m":"BMA naive","v":56.4},{"h":69,"m":"BMA naive","v":59.1},{"h":71,"m":"BMA naive","v":61.3},{"h":73,"m":"BMA naive","v":62.8},{"h":76,"m":"BMA naive","v":64.5},{"h":78,"m":"BMA naive","v":66.4},{"h":81,"m":"BMA naive","v":68.6},{"h":85,"m":"BMA naive","v":71.7},{"h":89,"m":"BMA naive","v":75.1},{"h":93,"m":"BMA naive","v":78.5},{"h":97,"m":"BMA naive","v":81.5},{"h":100,"m":"BMA naive","v":83.5},{"h":103,"m":"BMA naive","v":85.2},{"h":106,"m":"BMA naive","v":86.9},{"h":110,"m":"BMA naive","v":88.8},{"h":113,"m":"BMA naive","v":90.8},{"h":116,"m":"BMA naive","v":92.9},{"h":120,"m":"BMA naive","v":95.6},
{"h":1,"m":"EMOS","v":4.6},{"h":4,"m":"EMOS","v":7.6},{"h":7,"m":"EMOS","v":11.1},{"h":10,"m":"EMOS","v":14.3},{"h":15,"m":"EMOS","v":17.8},{"h":20,"m":"EMOS","v":19.8},{"h":25,"m":"EMOS","v":21.8},{"h":28,"m":"EMOS","v":22.5},{"h":30,"m":"EMOS","v":23.3},{"h":32,"m":"EMOS","v":24.8},{"h":35,"m":"EMOS","v":27.4},{"h":40,"m":"EMOS","v":30.8},{"h":45,"m":"EMOS","v":35.3},{"h":51,"m":"EMOS","v":40.6},{"h":56,"m":"EMOS","v":44.7},{"h":60,"m":"EMOS","v":47.9},{"h":64,"m":"EMOS","v":51.6},{"h":69,"m":"EMOS","v":56.5},{"h":73,"m":"EMOS","v":60.0},{"h":76,"m":"EMOS","v":61.9},{"h":81,"m":"EMOS","v":66.0},{"h":85,"m":"EMOS","v":68.8},{"h":89,"m":"EMOS","v":71.9},{"h":93,"m":"EMOS","v":74.8},{"h":97,"m":"EMOS","v":78.2},{"h":101,"m":"EMOS","v":79.4},{"h":105,"m":"EMOS","v":80.7},{"h":110,"m":"EMOS","v":82.3},{"h":114,"m":"EMOS","v":84.8},{"h":117,"m":"EMOS","v":87.2},{"h":120,"m":"EMOS","v":89.9},
{"h":1,"m":"Ensemble","v":0.0},{"h":7,"m":"Ensemble","v":0.0},{"h":10,"m":"Ensemble","v":0.3},{"h":15,"m":"Ensemble","v":1.1},{"h":20,"m":"Ensemble","v":1.9},{"h":26,"m":"Ensemble","v":3.3},{"h":31,"m":"Ensemble","v":4.6},{"h":35,"m":"Ensemble","v":6.0},{"h":40,"m":"Ensemble","v":7.9},{"h":45,"m":"Ensemble","v":9.8},{"h":51,"m":"Ensemble","v":12.8},{"h":56,"m":"Ensemble","v":15.1},{"h":60,"m":"Ensemble","v":17.4},{"h":64,"m":"Ensemble","v":20.2},{"h":69,"m":"Ensemble","v":23.3},{"h":73,"m":"Ensemble","v":25.7},{"h":77,"m":"Ensemble","v":28.3},{"h":82,"m":"Ensemble","v":32.0},{"h":86,"m":"Ensemble","v":35.2},{"h":90,"m":"Ensemble","v":38.5},{"h":95,"m":"Ensemble","v":42.4},{"h":99,"m":"Ensemble","v":45.6},{"h":103,"m":"Ensemble","v":48.7},{"h":107,"m":"Ensemble","v":52.1},{"h":112,"m":"Ensemble","v":55.8},{"h":116,"m":"Ensemble","v":58.3},{"h":120,"m":"Ensemble","v":61.0}
]
},
"concat": [
{
 "width": 404, "height": 260,
 "title": {"text": "(a)", "dx": -57},
 "layer": [
  {"data": {"name": "a"}, "mark": {"type": "line"},
   "encoding": {
    "x": {"field": "h", "type": "quantitative", "scale": {"domain": [-4.95, 125.95], "nice": false, "zero": false}, "axis": {"title": "Lead Time (h)", "values": [0,20,40,60,80,100,120], "titlePadding": 8}},
    "y": {"field": "v", "type": "quantitative", "scale": {"domain": [-0.945, 0.495], "nice": false, "zero": false},
          "axis": {"title": "Difference in MAE (cm)", "values": [-0.75,-0.5,-0.25,0,0.25], "labelExpr": "datum.value === 0 ? '0.0' : (datum.value === -0.5 ? '−0.5' : '')", "minExtent": 31, "maxExtent": 31, "titlePadding": 12,
                   "gridColor": {"condition": {"test": "abs(datum.value*2 - round(datum.value*2)) > 0.01", "value": "#EBEBEB"}, "value": "#DEDEDE"},
                   "tickOpacity": {"condition": {"test": "abs(datum.value*2 - round(datum.value*2)) > 0.01", "value": 0}, "value": 1}}},
    "color": {"field": "m", "type": "nominal", "title": "Forecast", "scale": {"domain": ["BMA ML","BMA naive","EMOS"], "range": ["#F8766D","#00BA38","#00B0F6"]}, "legend": {"legendX": 36, "legendY": 157}},
    "strokeDash": {"field": "m", "type": "nominal", "title": "Forecast", "scale": {"domain": ["BMA ML","BMA naive","EMOS"], "range": [[1,0],[2,3],[5,3]]}, "legend": {"legendX": 36, "legendY": 157}}
   }},
  {"data": {"values": [{"v": 0}]}, "mark": {"type": "rule", "color": "#3F62F5", "strokeDash": [1.5, 3], "strokeWidth": 1.3},
   "encoding": {"y": {"field": "v", "type": "quantitative", "title": "Difference in MAE (cm)"}}}
 ]
},
{
 "width": 407, "height": 260,
 "title": {"text": "(b)", "dx": -63},
 "layer": [
  {"data": {"name": "b"}, "mark": {"type": "line"},
   "encoding": {
    "x": {"field": "h", "type": "quantitative", "scale": {"domain": [-4.95, 125.95], "nice": false, "zero": false}, "axis": {"title": "Lead Time (h)", "values": [0,20,40,60,80,100,120], "titlePadding": 8}},
    "y": {"field": "v", "type": "quantitative", "scale": {"domain": [-0.069, 1.469], "nice": false, "zero": false},
          "axis": {"title": "p−value", "values": [0,0.25,0.5,0.75,1,1.25], "labelExpr": "abs(datum.value*2 - round(datum.value*2)) > 0.01 ? '' : format(datum.value, '.1f')", "minExtent": 24, "maxExtent": 24, "titlePadding": 16,
                   "gridColor": {"condition": {"test": "abs(datum.value*2 - round(datum.value*2)) > 0.01", "value": "#EBEBEB"}, "value": "#DEDEDE"},
                   "tickOpacity": {"condition": {"test": "abs(datum.value*2 - round(datum.value*2)) > 0.01", "value": 0}, "value": 1}}},
    "color": {"field": "m", "type": "nominal", "title": "Forecast pair", "scale": {"domain": ["BMA ML – BMA naive","BMA ML – EMOS","EMOS – BMA naive"], "range": ["#F8766D","#00BA38","#00B0F6"]}, "legend": {"legendX": 226, "legendY": 2}},
    "strokeDash": {"field": "m", "type": "nominal", "title": "Forecast pair", "scale": {"domain": ["BMA ML – BMA naive","BMA ML – EMOS","EMOS – BMA naive"], "range": [[1,0],[2,3],[5,3]]}, "legend": {"legendX": 226, "legendY": 2}}
   }},
  {"data": {"values": [{"v": 0.05}]}, "mark": {"type": "rule", "color": "#3F62F5", "strokeDash": [1.5, 3], "strokeWidth": 1.3},
   "encoding": {"y": {"field": "v", "type": "quantitative", "title": "p−value"}}}
 ]
},
{
 "width": 404, "height": 260,
 "title": {"text": "(c)", "dx": -77, "offset": -10},
 "resolve": {"axis": {"y": "independent"}},
 "layer": [
  {"data": {"name": "c"}, "mark": {"type": "line"},
   "encoding": {
    "x": {"field": "h", "type": "quantitative", "scale": {"domain": [-4.95, 125.95], "nice": false, "zero": false}, "axis": {"title": "Lead Time (h)", "values": [0,20,40,60,80,100,120], "titlePadding": 8}},
    "y": {"field": "v", "type": "quantitative", "scale": {"domain": [9.4, 101.8], "nice": false, "zero": false},
          "axis": {"title": "Coverage of 97.5% prediction interval (%)", "values": [12.5,25,37.5,50,62.5,75,87.5,100], "labelExpr": "indexof([25,50,75,100], datum.value) >= 0 ? toString(datum.value) : ''", "minExtent": 28, "maxExtent": 28, "titlePadding": 17,
                   "gridColor": {"condition": {"test": "indexof([25,50,75,100], datum.value) < 0", "value": "#EBEBEB"}, "value": "#DEDEDE"},
                   "tickOpacity": {"condition": {"test": "indexof([25,50,75,100], datum.value) < 0", "value": 0}, "value": 1}}},
    "color": {"field": "m", "type": "nominal", "title": "Forecast", "scale": {"domain": ["BMA ML","BMA naive","EMOS","Ensemble"], "range": ["#F8766D","#7CAE00","#00BFC4","#D68BFF"]}, "legend": {"legendX": 32, "legendY": 46}},
    "strokeDash": {"field": "m", "type": "nominal", "title": "Forecast", "scale": {"domain": ["BMA ML","BMA naive","EMOS","Ensemble"], "range": [[1,0],[2,3],[5,3],[1.5,4,5.5,4]]}, "legend": {"legendX": 32, "legendY": 46}}
   }},
  {"data": {"values": [{"v": 97.5}]}, "mark": {"type": "rule", "color": "#3F62F5", "strokeDash": [1.5, 3], "strokeWidth": 1.3},
   "encoding": {"y": {"field": "v", "type": "quantitative", "axis": null}}}
 ]
},
{
 "width": 407, "height": 260,
 "title": {"text": "(d)", "dx": -74, "offset": -7},
 "layer": [
  {"data": {"name": "d"}, "mark": {"type": "line"},
   "encoding": {
    "x": {"field": "h", "type": "quantitative", "scale": {"domain": [-4.95, 125.95], "nice": false, "zero": false}, "axis": {"title": "Lead Time (h)", "values": [0,20,40,60,80,100,120], "titlePadding": 8}},
    "y": {"field": "v", "type": "quantitative", "scale": {"domain": [-4.9, 101.1], "nice": false, "zero": false},
          "axis": {"title": "Width of 97.5% prediction interval (cm)", "values": [0,12.5,25,37.5,50,62.5,75,87.5,100], "labelExpr": "indexof([0,25,50,75,100], datum.value) >= 0 ? toString(datum.value) : ''", "minExtent": 28, "maxExtent": 28, "titlePadding": 12,
                   "gridColor": {"condition": {"test": "indexof([0,25,50,75,100], datum.value) < 0", "value": "#EBEBEB"}, "value": "#DEDEDE"},
                   "tickOpacity": {"condition": {"test": "indexof([0,25,50,75,100], datum.value) < 0", "value": 0}, "value": 1}}},
    "color": {"field": "m", "type": "nominal", "title": "Forecast", "scale": {"domain": ["BMA ML","BMA naive","EMOS","Ensemble"], "range": ["#F8766D","#7CAE00","#00BFC4","#D68BFF"]}, "legend": {"legendX": 37, "legendY": 46}},
    "strokeDash": {"field": "m", "type": "nominal", "title": "Forecast", "scale": {"domain": ["BMA ML","BMA naive","EMOS","Ensemble"], "range": [[1,0],[2,3],[5,3],[1.5,4,5.5,4]]}, "legend": {"legendX": 37, "legendY": 46}}
   }}
 ]
}
]
}
